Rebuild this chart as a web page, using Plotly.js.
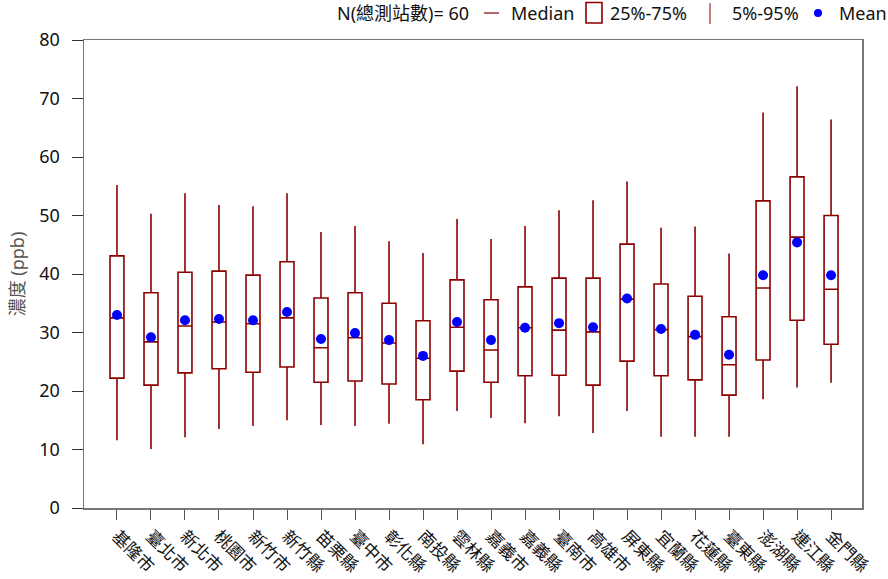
<!DOCTYPE html>
<html><head><meta charset="utf-8">
<script src="https://cdn.plot.ly/plotly-3.0.1.min.js"></script>
<style>body{margin:0;background:#fff}#c{width:888px;height:579px}</style>
</head><body><div id="c"></div>
<script>
const categories = ['基隆市','臺北市','新北市','桃園市','新竹市','新竹縣','苗栗縣','臺中市','彰化縣','南投縣','雲林縣','嘉義市','嘉義縣','臺南市','高雄市','屏東縣','宜蘭縣','花蓮縣','臺東縣','澎湖縣','連江縣','金門縣'];
const p95 =    [55.2,50.3,53.8,51.8,51.6,53.8,47.2,48.2,45.6,43.6,49.4,46.0,48.2,50.9,52.6,55.8,47.9,48.1,43.5,67.6,72.1,66.4];
const q3 =     [43.1,36.8,40.3,40.5,39.8,42.1,35.9,36.8,35.0,32.0,39.0,35.6,37.8,39.3,39.3,45.1,38.3,36.2,32.7,52.5,56.6,50.0];
const median = [32.5,28.4,31.1,31.8,31.5,32.5,27.4,29.1,28.2,25.6,30.9,27.0,30.8,30.4,30.1,35.7,30.5,29.3,24.5,37.6,46.3,37.4];
const q1 =     [22.2,21.0,23.1,23.8,23.2,24.1,21.5,21.7,21.2,18.5,23.4,21.5,22.6,22.7,21.0,25.1,22.6,21.9,19.3,25.3,32.1,28.0];
const p5 =     [11.6,10.1,12.1,13.5,14.0,15.0,14.2,14.0,14.4,10.9,16.6,15.4,14.5,15.7,12.8,16.6,12.2,12.2,12.2,18.6,20.6,21.4];
const mean =   [33.0,29.2,32.1,32.3,32.1,33.5,28.9,29.9,28.7,26.0,31.8,28.7,30.8,31.6,30.9,35.8,30.6,29.6,26.2,39.8,45.4,39.8];
const nStations = 60;

const FONT = 'Noto Sans, Noto Sans CJK TC, sans-serif';
const RED = '#8B0000';

const traces = [
  {type:'box', x:categories, q1:q1, median:median, q3:q3, lowerfence:p5, upperfence:p95,
   width:0.41, whiskerwidth:0, fillcolor:'#ffffff', line:{color:RED, width:1.6},
   boxpoints:false, hoverinfo:'skip', showlegend:false},
  {type:'scatter', mode:'markers', x:categories, y:mean,
   marker:{color:'#0000ff', size:10}, showlegend:false, hoverinfo:'skip'}
];

function px(x){return (x-84)/778;}
function py(y){return (508-y)/468;}

const annotations = [
  {text:'N(總測站數)= '+nStations, x:px(335), y:py(13)},
  {text:'Median', x:px(509), y:py(13)},
  {text:'25%-75%', x:px(608), y:py(13)},
  {text:'5%-95%', x:px(730), y:py(13)},
  {text:'Mean', x:px(837), y:py(13)}
].map(a=>Object.assign({xref:'paper', yref:'paper', xanchor:'left', yanchor:'middle',
   showarrow:false, font:{family:FONT, size:18, color:'#111'}}, a));

const shapes = [
  {type:'line', xref:'paper', yref:'paper', x0:px(484), x1:px(499), y0:py(13), y1:py(13), line:{color:RED, width:1.2}},
  {type:'rect', xref:'paper', yref:'paper', x0:px(586), x1:px(602), y0:py(2.5), y1:py(23), line:{color:RED, width:1.6}, fillcolor:'#fff'},
  {type:'line', xref:'paper', yref:'paper', x0:px(710), x1:px(710), y0:py(3), y1:py(24), line:{color:RED, width:1}},
  {type:'circle', xref:'paper', yref:'paper', x0:px(814), x1:px(822), y0:py(9), y1:py(17), line:{color:'#0000ff', width:0}, fillcolor:'#0000ff'}
];

const layout = {
  width:888, height:579,
  margin:{l:84, r:26, t:40, b:71},
  paper_bgcolor:'#fff', plot_bgcolor:'#fff',
  font:{family:FONT, size:18, color:'#111'},
  showlegend:false,
  xaxis:{type:'category', range:[-0.97, 21.91], showgrid:false, zeroline:false,
    showline:true, linecolor:'#777', linewidth:1.5, mirror:true,
    ticks:'outside', ticklen:10, tickcolor:'#555', tickangle:45,
    tickfont:{family:FONT, size:17, color:'#111'}},
  yaxis:{range:[0,80], dtick:10, showgrid:false, zeroline:false,
    showline:true, linecolor:'#777', linewidth:1.5, mirror:true,
    ticks:'outside', ticklen:11, tickcolor:'#333', ticklabelstandoff:8,
    tickfont:{family:FONT, size:18, color:'#111'},
    title:{text:'濃度 (ppb)', font:{family:FONT, size:18, color:'#555'}, standoff:10}},
  annotations:annotations, shapes:shapes
};

Plotly.newPlot('c', traces, layout, {staticPlot:true});
</script></body></html>
